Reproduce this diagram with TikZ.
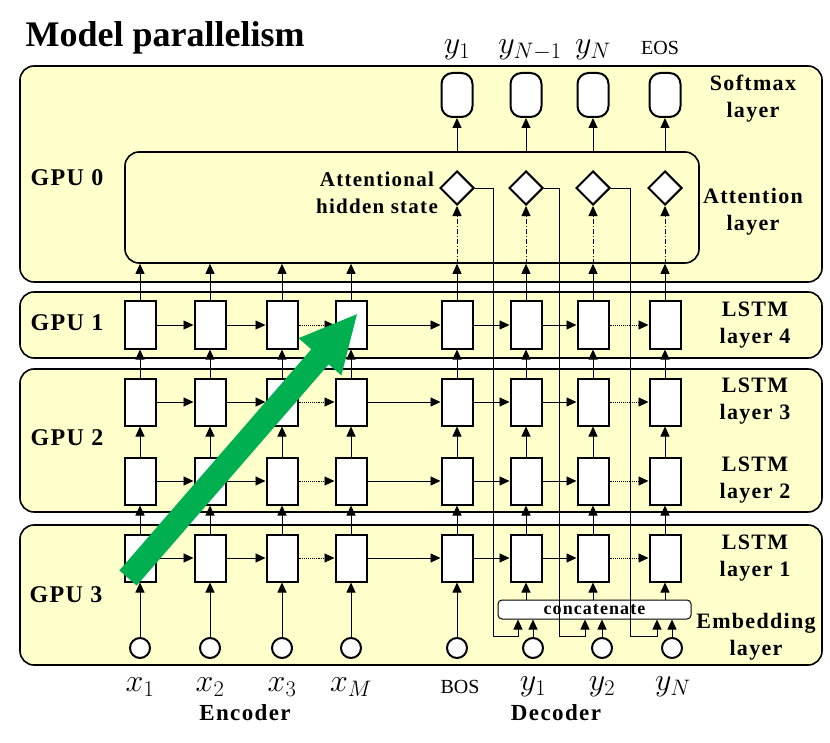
\documentclass[tikz,border=0pt]{standalone}
\usepackage{fix-cm}
\usepackage{fontspec}
\setmainfont{Liberation Serif}
\newfontfamily\spacedfont{Liberation Serif}[LetterSpace=6]
\usetikzlibrary{arrows.meta, shapes.geometric}

\definecolor{gpuyellow}{HTML}{FFFFCC}
\definecolor{flowgreen}{HTML}{00B050}

\tikzset{
  gpu/.style={draw, line width=1.6pt, fill=gpuyellow, rounded corners=14pt},
  cell/.style={draw, line width=2pt, fill=white, minimum width=31pt, minimum height=47pt, inner sep=0pt},
  token/.style={circle, draw, line width=2pt, fill=white, minimum size=20pt, inner sep=0pt},
  prob/.style={draw, line width=2pt, fill=white, rounded corners=11pt, minimum width=31pt, minimum height=44pt, inner sep=0pt},
  score/.style={diamond, draw, line width=2pt, fill=white, minimum size=34pt, inner sep=0pt},
  feed/.style={line width=0.9pt, -{Triangle[length=10pt, width=9pt]}},
  tag/.style={font=\spacedfont\bfseries\fontsize{22}{27}\selectfont, align=center},
  gputag/.style={font=\spacedfont\bfseries\fontsize{24}{26}\selectfont},
  parttag/.style={font=\spacedfont\bfseries\fontsize{23}{26}\selectfont},
  sym/.style={font=\fontsize{32}{34}\selectfont},
  word/.style={font=\fontsize{20}{22}\selectfont},
}

\begin{document}
\begin{tikzpicture}[x=1pt, y=-1pt]
\useasboundingbox (0,0) rectangle (830,743);

% GPU panels
\draw[gpu] (20,66) rectangle (822,282);
\draw[gpu] (20,292) rectangle (822,358);
\draw[gpu] (20,369) rectangle (822,512);
\draw[gpu] (20,525) rectangle (822,665);
\node[gpu, minimum width=574pt, minimum height=111pt] (attn) at (412,207.5) {};

% LSTM cells, stacked per time step
\foreach \c/\x in {1/140, 2/210, 3/282, 4/351, 5/457, 6/526, 7/593, 8/665} {
  \foreach \l/\y in {1/558, 2/481, 3/402, 4/325}
    \node[cell] (h\l\c) at (\x,\y) {};
  \draw[feed] (h1\c) -- (h2\c);
  \draw[feed] (h2\c) -- (h3\c);
  \draw[feed] (h3\c) -- (h4\c);
  \draw[feed] (h4\c) -- (h4\c |- attn.south);
}
\foreach \l in {1,...,4} {
  \foreach \a/\b in {1/2, 2/3, 4/5, 5/6, 6/7}
    \draw[feed] (h\l\a) -- (h\l\b);
  \foreach \a/\b in {3/4, 7/8}
    \draw[feed, densely dotted] (h\l\a) -- (h\l\b);
}

% embedding layer
\foreach \c/\x in {1/140, 2/210, 3/282, 4/351, 5/457} {
  \node[token] (e\c) at (\x,648) {};
  \draw[feed] (e\c) -- (h1\c);
}
\foreach \c/\x in {6/533, 7/602, 8/672}
  \node[token] (e\c) at (\x,648) {};

\node[draw, line width=1pt, fill=white, rounded corners=4pt, minimum width=193pt,
  minimum height=19pt, inner sep=0pt,
  font=\spacedfont\bfseries\fontsize{18}{18}\selectfont] (concat) at (594.5,609.5) {concatenate};
\foreach \c in {6,7,8} {
  \draw[feed] (e\c) -- (e\c |- concat.south);
  \draw[feed] (h1\c |- concat.north) -- (h1\c);
}

% attention and softmax
\foreach \c/\x in {5/457, 6/526, 7/593, 8/665} {
  \node[score] (a\c) at (\x,188) {};
  \node[prob] (s\c) at (\x,95) {};
  \draw[feed, dash pattern=on 5pt off 2pt on 1pt off 2pt] (h4\c |- attn.south) -- (a\c);
  \draw[feed] (s\c |- attn.north) -- (s\c);
}
\foreach \c/\dx/\sh in {5/493/-76.5, 6/559/-9.5, 7/630/62.5}
  \draw[feed] (a\c.east) -| (\dx,636) -| ([xshift=\sh pt]concat.south);

% labels
\node[font=\bfseries\fontsize{36}{40}\selectfont, anchor=base west] (title) at (22,47) {Model parallelism};
\node[gputag] (g0) at (67,178) {GPU 0};
\node[gputag] (g1) at (67,323) {GPU 1};
\node[gputag] (g2) at (67,438) {GPU 2};
\node[gputag] (g3) at (66,595) {GPU 3};

\node[tag] (softtag) at (753,99) {Softmax\\layer};
\node[tag] (atttag) at (753,212) {Attention\\layer};
\node[tag] (tag4) at (755,325) {LSTM\\layer 4};
\node[tag] (tag3) at (755,401) {LSTM\\layer 3};
\node[tag] (tag2) at (755,480) {LSTM\\layer 2};
\node[tag] (tag1) at (755,558) {LSTM\\layer 1};
\node[tag] (embtag) at (756,637) {Embedding\\layer};
\node[tag, font=\spacedfont\bfseries\fontsize{21}{27}\selectfont] (hidtag) at (377,193) {Attentional\\hidden state};

\node[sym] (o5) at (457,50) {$y_1$};
\node[sym] (o6) at (530,50) {$y_{N-1}$};
\node[sym] (o7) at (593,50) {$y_N$};
\node[word] (o8) at (660,48) {EOS};

\node[sym] (i1) at (140,687) {$x_1$};
\node[sym] (i2) at (210,687) {$x_2$};
\node[sym] (i3) at (282,687) {$x_3$};
\node[sym] (i4) at (351,687) {$x_M$};
\node[word] (i5) at (460,687) {BOS};
\node[sym] (i6) at (533,687) {$y_1$};
\node[sym] (i7) at (602,687) {$y_2$};
\node[sym] (i8) at (673,687) {$y_N$};
\node[parttag] (enc) at (245,713) {Encoder};
\node[parttag] (dec) at (556,713) {Decoder};

% pipeline direction
\coordinate (gtail) at (128,578);
\coordinate (ghead) at (358,313);
\draw[flowgreen, line width=23pt, -{Triangle[length=58pt, width=52pt]}] (gtail) -- (ghead);

\end{tikzpicture}
\end{document}
